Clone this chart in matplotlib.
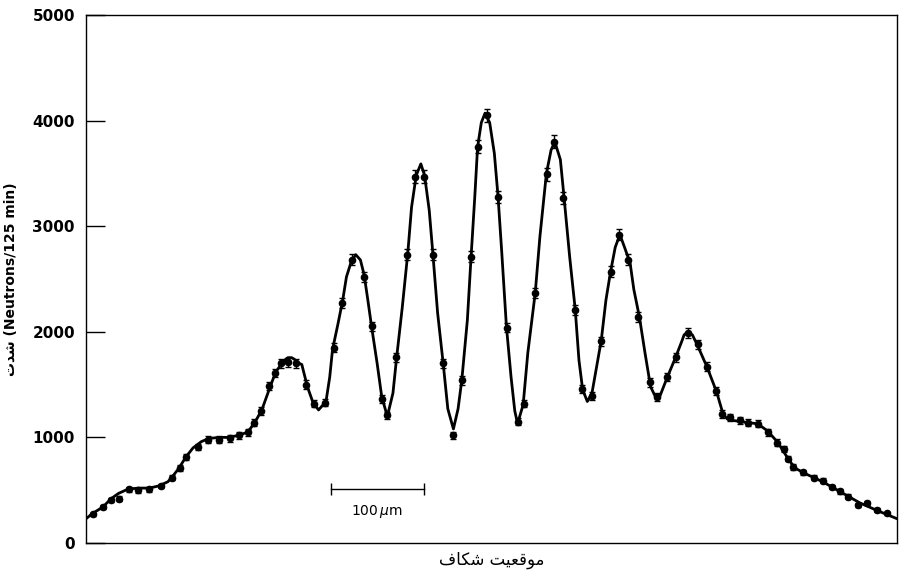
import matplotlib
matplotlib.use("Agg")
import matplotlib.pyplot as plt
import numpy as np

# fitted curve: slit position (um) vs neutron counts
curve_x = [-430, -423, -412, -403, -395, -385, -374, -362, -352, -342, -337, -330,
           -323, -315, -306, -298, -287, -276, -266, -256, -248, -241, -232, -226,
           -219, -216, -213, -209, -206, -203, -198, -192, -186, -180, -172, -168,
           -165, -159, -154, -150, -145, -140, -135, -131, -127, -123, -117, -112,
           -106, -100, -96, -90, -84, -80, -75, -70, -66, -61, -57, -52, -46, -41,
           -35, -30, -26, -20, -16, -12, -9, -5, -1, 4, 9, 13, 17, 22, 27, 31,
           34, 40, 45, 53, 58, 65, 70, 74, 80, 84, 90, 96, 100, 104, 109, 114,
           119, 124, 129, 134, 139, 144, 149, 155, 159, 165, 171, 177, 183, 187,
           195, 204, 211, 213, 217, 222, 228, 238, 248, 255, 260, 266, 281, 292,
           303, 314, 324, 332, 345, 362, 384, 402, 420, 442]
curve_y = [230, 280, 340, 420, 470, 510, 520, 520, 540, 580, 630, 710,
           810, 900, 960, 990, 1000, 1000, 1020, 1050, 1150, 1260, 1480, 1620,
           1705, 1735, 1755, 1755, 1740, 1710, 1690, 1480, 1330, 1260, 1340, 1570,
           1830, 2080, 2300, 2520, 2660, 2730, 2680, 2540, 2300, 2050, 1700, 1380,
           1200, 1420, 1760, 2230, 2750, 3180, 3480, 3590, 3480, 3150, 2730, 2180, 1700, 1270,
           1080, 1270, 1540, 2110, 2710, 3280, 3750, 3980, 4070, 3980, 3690, 3280, 2750, 2050, 1570, 1250,
           1130, 1310, 1800, 2370, 2900, 3500, 3720, 3800, 3630, 3270, 2710, 2210, 1730, 1450, 1340, 1420,
           1670, 1920, 2300, 2570, 2800, 2920, 2800, 2650, 2400, 2140, 1800, 1480, 1370, 1390,
           1570, 1760, 1920, 1970, 2000, 1970, 1860, 1660, 1430, 1220, 1170, 1160, 1140, 1130,
           1060, 950, 810, 710, 650, 580, 470, 380, 310, 230]

# measured points
pts_x = [-423, -412, -403, -395, -384, -374, -362, -349, -338, -329, -323, -310,
         -299, -287, -275, -266, -256, -249, -242, -233, -227, -220, -213, -204,
         -194, -185, -173, -163, -155, -144, -131, -122, -112, -106, -97, -85,
         -76, -67, -57, -46, -35, -26, -16, -9, 1, 13, 23, 34, 41, 53, 66, 73,
         83, 96, 103, 114, 124, 134, 143, 153, 163, 176, 184, 195, 204, 217, 228,
         238, 247, 254, 262, 273, 282, 292, 303, 313, 320, 325, 330, 341, 353,
         362, 372, 381, 389, 400, 410, 420, 431]
pts_y = [270, 340, 410, 420, 510, 500, 510, 540, 620, 710, 810, 910,
         980, 980, 990, 1020, 1050, 1140, 1250, 1490, 1610, 1700, 1710, 1700,
         1500, 1320, 1330, 1850, 2270, 2680, 2520, 2050, 1360, 1210, 1760, 2730,
         3470, 3470, 2730, 1700, 1020, 1540, 2710, 3750, 4050, 3280, 2040, 1150, 1320, 2370, 3490, 3800,
         3270, 2210, 1460, 1390, 1910, 2570, 2920, 2680, 2140, 1520, 1380, 1570, 1760, 1990, 1880,
         1670, 1440, 1220, 1190, 1160, 1140, 1130, 1050, 950, 890, 800, 720, 670, 620,
         590, 530, 490, 440, 360, 380, 310, 280]

yticks = [0, 1000, 2000, 3000, 4000, 5000]

pts_x = np.array(pts_x)
pts_y = np.array(pts_y)
pts_err = np.sqrt(pts_y)  # counting statistics

# Persian text in presentation forms, laid out left to right
xlabel = "\uFED1\uFE8E\uFB91\uFEB7 \uFE96\uFEF4\uFECC\uFED7\uFEEE\uFEE3"
ylabel = "\uFE95\uFEAA\uFEB7 (Neutrons/125 min)"

fig = plt.figure(figsize=(9.01, 5.74), dpi=100)
ax = fig.add_axes([0.0955, 0.054, 0.9001, 0.920])

ax.plot(curve_x, curve_y, color='black', lw=2.0, solid_joinstyle='round',
        solid_capstyle='round', zorder=2)
ax.errorbar(pts_x, pts_y, yerr=pts_err, fmt='o', color='black', ms=4.5,
            elinewidth=1.0, capsize=2, capthick=1.0, zorder=3)

# 100 um scale bar
ax.plot([-166.7, -66.7], [510, 510], color='black', lw=1.0)
ax.plot([-166.7, -66.7], [510, 510], ls='none', marker='|', ms=8, mew=1.0, color='black')
ax.text(-116.7, 300, r"100$\,\mu$m", ha='center', va='center', fontsize=10)

ax.set_xlim(-430, 442)
ax.set_ylim(0, 5000)
ax.set_xticks([])
ax.set_yticks(yticks)
ax.set_yticklabels([str(t) for t in yticks], fontsize=11, fontweight='bold')
ax.tick_params(axis='y', direction='in', length=14, width=1.0, pad=8)
for s in ax.spines.values():
    s.set_linewidth(1.0)

ax.set_xlabel(xlabel, fontsize=12, family='DejaVu Sans', labelpad=6)
ax.set_ylabel(ylabel, fontsize=10, fontweight='bold', labelpad=10)

fig.savefig("out.png", dpi=100)
